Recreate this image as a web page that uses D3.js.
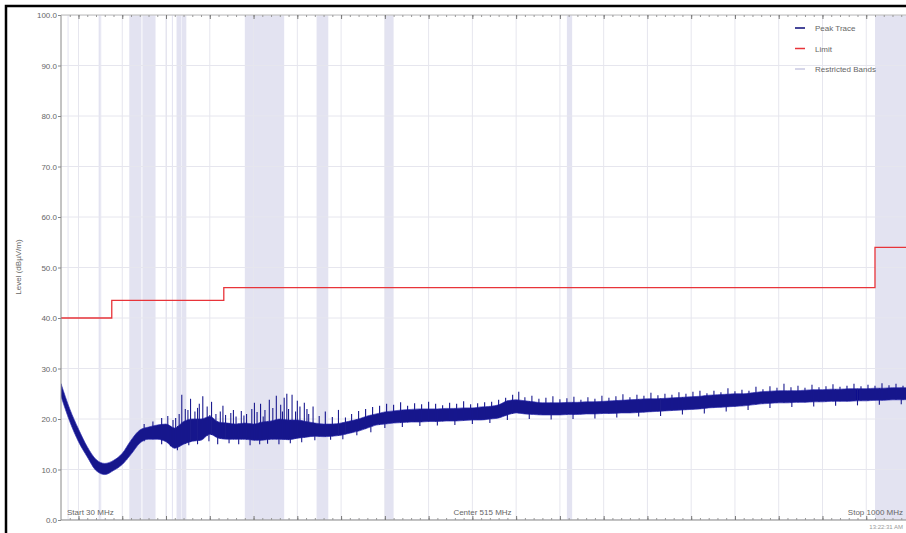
<!DOCTYPE html>
<html><head><meta charset="utf-8">
<script src="https://cdn.jsdelivr.net/npm/d3@7"></script>
<style>body{margin:0;background:#fff;}svg{display:block;font-family:"Liberation Sans",Arial,sans-serif;}</style>
</head><body><svg id="c" width="906" height="533"></svg>
<script>
// ---- data ----
const freqStart = 30, freqStop = 1000;
const yTicks = [0,10,20,30,40,50,60,70,80,90,100];
// peak trace envelope, sampled every 10 MHz from 30 to 1000
const traceFreq = [30,40,50,60,70,80,90,100,110,120,130,140,150,160,170,180,190,200,210,220,230,240,250,260,270,280,290,300,310,320,330,340,350,360,370,380,390,400,410,420,430,440,450,460,470,480,490,500,510,520,530,540,550,560,570,580,590,600,610,620,630,640,650,660,670,680,690,700,710,720,730,740,750,760,770,780,790,800,810,820,830,840,850,860,870,880,890,900,910,920,930,940,950,960,970,980,990,1000];
const traceLow = [24.5,19.5,15.5,12.5,9.8,9.0,9.8,11.0,13.0,15.2,16.0,16.0,15.5,14.2,15.0,15.6,15.8,17.0,16.2,16.0,16.0,16.0,15.8,15.8,16.0,16.0,15.9,16.2,16.4,16.6,16.5,16.6,16.8,17.2,17.6,18.2,18.8,19.0,19.2,19.3,19.4,19.4,19.5,19.5,19.6,19.6,19.7,19.8,19.8,20.0,20.2,20.8,21.2,21.0,20.9,20.8,20.8,20.8,20.9,20.9,21.0,21.0,21.1,21.1,21.2,21.2,21.3,21.4,21.5,21.6,21.7,21.8,21.9,22.0,22.2,22.3,22.4,22.5,22.6,22.8,23.0,23.1,23.2,23.2,23.3,23.3,23.4,23.4,23.5,23.5,23.5,23.6,23.6,23.7,23.7,23.8,23.8,23.9];
const traceHigh = [27.0,22.0,18.0,14.5,12.0,11.2,11.8,13.2,15.8,17.8,18.4,18.8,19.0,18.2,19.5,20.0,20.0,20.5,19.4,19.2,19.0,19.2,19.0,19.4,19.6,20.0,19.8,19.8,19.5,19.2,19.0,19.0,19.2,19.6,20.0,20.6,21.0,21.4,21.6,21.8,21.9,22.0,22.0,22.0,22.1,22.1,22.2,22.2,22.4,22.5,22.8,23.6,23.8,23.6,23.4,23.2,23.2,23.2,23.3,23.3,23.4,23.4,23.5,23.6,23.7,23.8,23.9,24.0,24.0,24.1,24.2,24.3,24.4,24.5,24.7,24.8,24.9,25.0,25.0,25.2,25.4,25.5,25.6,25.6,25.6,25.7,25.8,25.8,25.9,25.9,26.0,26.0,26.0,26.1,26.1,26.2,26.2,26.2];
// upward spikes of the peak trace (MHz, dBµV/m)
const spikeFreq = [105,125,135,145,152,158,161,165,168,172,175,178,183,186,188,192,197,200,202,207,212,215,218,224,227,230,236,239,242,248,251,254,258,261,263,268,272,276,281,283,285,288,290,294,298,300,303,308,311,313,318,325,332,340,347,355,362,370,378,386,394,402,410,418,426,434,442,450,458,466,474,482,490,498,506,514,522,530,538,546,553,560,568,576,584,592,600,608,616,624,632,640,648,656,664,672,680,688,696,704,712,720,728,736,744,752,760,768,776,784,792,800,808,816,824,832,840,848,856,864,872,880,888,896,904,912,920,928,936,944,952,960,968,976,984,992];
const spikeLevel = [12.5,19.0,19.5,20.2,20.6,19.8,20.2,21.0,24.8,22.0,21.8,24.0,21.5,22.2,23.0,24.5,22.5,20.8,23.4,21.0,21.5,22.6,20.8,21.2,21.8,20.5,21.6,20.7,21.0,22.0,23.2,21.4,23.0,20.5,21.8,23.8,22.2,24.6,22.8,21.5,24.2,25.0,22.0,24.8,21.5,23.6,22.5,23.2,22.0,21.0,22.5,20.6,21.5,20.4,21.8,20.3,21.0,21.6,22.0,22.4,22.6,23.0,22.8,23.3,22.6,23.1,22.9,23.4,23.0,22.7,23.2,23.0,23.5,22.9,23.1,23.3,23.4,23.8,24.2,24.8,25.4,24.3,24.6,24.0,24.2,24.5,23.9,24.1,24.4,23.8,24.3,24.0,24.6,24.2,24.5,24.9,24.3,24.8,24.6,25.2,24.7,25.0,24.8,25.3,25.0,25.4,25.6,25.1,25.6,25.3,26.1,25.5,25.8,25.6,26.4,25.9,26.5,26.2,27.0,26.3,26.6,26.2,26.8,26.3,26.5,26.9,26.4,26.6,27.0,26.5,26.8,26.6,27.1,26.7,27.0,26.6];
// downward dips of the peak trace
const dipFreq = [145,155,163,176,186,199,209,222,233,246,257,266,279,292,305,320,338,352,368,384,400,420,440,460,480,500,520,540,565,590,615,640,665,690,715,740,765,790,815,840,865,890,915,940,965,990];
const dipLevel = [15.0,14.6,13.8,14.8,15.0,15.6,15.0,15.2,15.0,14.8,15.0,15.1,15.0,15.2,15.4,15.8,15.9,16.0,16.8,17.4,18.2,18.4,18.6,18.7,18.8,19.0,19.2,19.8,20.0,19.9,20.0,20.1,20.3,20.5,20.6,20.9,21.1,21.5,21.8,22.2,22.4,22.5,22.6,22.7,22.8,22.9];
const limitFreq = [30, 88, 216, 960, 1000];
const limitLevel = [40.0, 43.5, 46.0, 54.0, 54.0];
const bandStart = [37.5, 73, 74.8, 108, 123, 149.9, 156.7, 162.0125, 167.72, 240, 322, 399.9, 608, 960];
const bandStop  = [38.25, 74.6, 75.2, 121.94, 138, 150.05, 156.9, 167.17, 173.2, 285, 335.4, 410, 614, 1240];
const legendLabels = ["Peak Trace", "Limit", "Restricted Bands"];

// ---- layout ----
const svg = d3.select("#c");
const L = 61, R = 910, T = 15, B = 520;
const x = d3.scaleLinear().domain([freqStart, freqStop]).range([L, R]);
const y = d3.scaleLinear().domain([0, 100]).range([B, T]);
const env = traceFreq.map((f,i)=>({f, lo: traceLow[i], hi: traceHigh[i]}));
const loAt = d3.scaleLinear().domain(traceFreq).range(traceLow);
const hiAt = d3.scaleLinear().domain(traceFreq).range(traceHigh);

// frame
svg.append("rect").attr("x",6).attr("y",6).attr("width",920).attr("height",540)
  .attr("fill","#fff").attr("stroke","#000").attr("stroke-width",2.5);

const defs = svg.append("defs");
defs.append("clipPath").attr("id","clip")
  .append("rect").attr("x",L).attr("y",T).attr("width",R-L).attr("height",B-T);
defs.append("filter").attr("id","soft").attr("x","-5%").attr("y","-20%").attr("width","110%").attr("height","140%")
  .append("feGaussianBlur").attr("stdDeviation",0.45);
const g = svg.append("g").attr("clip-path","url(#clip)");

// restricted bands
g.selectAll("rect.band").data(bandStart.map((s,i)=>[s,bandStop[i]])).join("rect")
  .attr("class","band")
  .attr("x",d=>x(d[0])).attr("width",d=>Math.max(1,x(d[1])-x(d[0])))
  .attr("y",T).attr("height",B-T).attr("fill","#e3e3f1");

// grid
const xGrid = d3.range(50, 1001, 50);
g.selectAll("line.vg").data(xGrid).join("line")
  .attr("x1",d=>x(d)).attr("x2",d=>x(d)).attr("y1",T).attr("y2",B)
  .attr("stroke","#e6e6ee").attr("stroke-width",1);
g.selectAll("line.hg").data(yTicks).join("line")
  .attr("x1",L).attr("x2",R).attr("y1",d=>y(d)).attr("y2",d=>y(d))
  .attr("stroke","#e6e6ee").attr("stroke-width",1);

// limit
const limitLine = d3.line().x(d=>x(d[0])).y(d=>y(d[1])).curve(d3.curveStepAfter);
g.append("path").datum(limitFreq.map((f,i)=>[f,limitLevel[i]]))
  .attr("d",limitLine).attr("fill","none").attr("stroke","#e8343a").attr("stroke-width",1.3);

// peak trace: envelope band + spikes + dips
const tg = g.append("g").attr("filter","url(#soft)");
const area = d3.area().x(d=>x(d.f)).y0(d=>y(d.lo)).y1(d=>y(d.hi)).curve(d3.curveMonotoneX);
tg.append("path").datum(env).attr("d",area)
  .attr("fill","#12128c").attr("stroke","#3535b0").attr("stroke-width",1.0).attr("stroke-opacity",0.7);
tg.selectAll("line.sp").data(spikeFreq.map((f,i)=>[f,spikeLevel[i]])).join("line")
  .attr("x1",d=>x(d[0])).attr("x2",d=>x(d[0]))
  .attr("y1",d=>y(loAt(d[0]))).attr("y2",d=>y(d[1]))
  .attr("stroke","#1a1a8e").attr("stroke-width",1.1);
tg.selectAll("line.dp").data(dipFreq.map((f,i)=>[f,dipLevel[i]])).join("line")
  .attr("x1",d=>x(d[0])).attr("x2",d=>x(d[0]))
  .attr("y1",d=>y(hiAt(d[0]))).attr("y2",d=>y(d[1]))
  .attr("stroke","#1a1a8e").attr("stroke-width",1.1);

// axes
const axCol = "#888";
svg.append("line").attr("x1",L).attr("x2",L).attr("y1",T).attr("y2",B).attr("stroke",axCol);
svg.append("line").attr("x1",L).attr("x2",R).attr("y1",B).attr("y2",B).attr("stroke",axCol);
svg.append("line").attr("x1",L).attr("x2",R).attr("y1",T).attr("y2",T).attr("stroke","#bbb");

const yAxis = d3.axisLeft(y).tickValues(yTicks).tickFormat(d3.format(".1f")).tickSize(3);
const ya = svg.append("g").attr("transform",`translate(${L},0)`).call(yAxis);
ya.select(".domain").remove();
ya.selectAll("line").attr("stroke",axCol);
ya.selectAll("text").attr("fill","#666").style("font-size","8px").attr("x",-4);

const xMinor = d3.range(40, 1001, 10);
const xb = svg.append("g").attr("transform",`translate(0,${B})`)
  .call(d3.axisTop(x).tickValues(xMinor).tickSize(2).tickFormat(""));
xb.select(".domain").remove(); xb.selectAll("line").attr("stroke","#999");
const xbM = svg.append("g").attr("transform",`translate(0,${B})`)
  .call(d3.axisTop(x).tickValues(xGrid).tickSize(4).tickFormat(""));
xbM.select(".domain").remove(); xbM.selectAll("line").attr("stroke","#777");
const xt = svg.append("g").attr("transform",`translate(0,${T})`)
  .call(d3.axisBottom(x).tickValues(xMinor).tickSize(2).tickFormat(""));
xt.select(".domain").remove(); xt.selectAll("line").attr("stroke","#999");
const xtM = svg.append("g").attr("transform",`translate(0,${T})`)
  .call(d3.axisBottom(x).tickValues(xGrid).tickSize(4).tickFormat(""));
xtM.select(".domain").remove(); xtM.selectAll("line").attr("stroke","#777");

// y label
svg.append("text").attr("transform","translate(21,267) rotate(-90)")
  .attr("text-anchor","middle").attr("fill","#666").style("font-size","8px")
  .text("Level (dBµV/m)");

// bottom labels
svg.append("text").attr("x",67).attr("y",515).attr("fill","#666").style("font-size","8px").text("Start 30 MHz");
svg.append("text").attr("x",x(515)-3).attr("y",515).attr("text-anchor","middle").attr("fill","#666").style("font-size","8px").text("Center 515 MHz");
svg.append("text").attr("x",903).attr("y",515).attr("text-anchor","end").attr("fill","#666").style("font-size","8px").text("Stop 1000 MHz");
svg.append("text").attr("x",903).attr("y",529).attr("text-anchor","end").attr("fill","#999").style("font-size","6px").text("13:22:31 AM");

// legend
const legColors = ["#0a0a78", "#e8343a", "#c8c8e2"];
const lg = svg.append("g");
legendLabels.forEach((t,i)=>{
  const yy = 28 + i*20.5;
  lg.append("line").attr("x1",795).attr("x2",805).attr("y1",yy).attr("y2",yy)
    .attr("stroke",legColors[i]).attr("stroke-width",1.5);
  lg.append("text").attr("x",815).attr("y",yy+3).attr("fill","#666").style("font-size","8px").text(t);
});
</script></body></html>
